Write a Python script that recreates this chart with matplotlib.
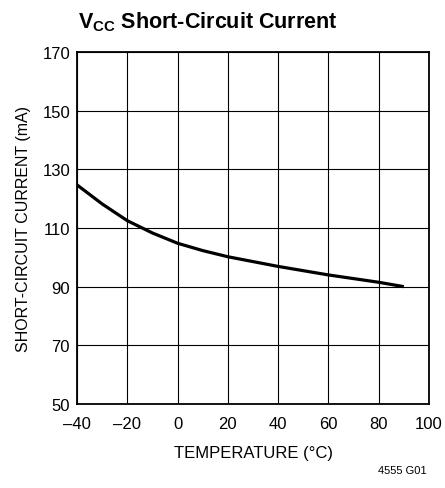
import matplotlib.pyplot as plt
from matplotlib import font_manager

# curve
temp = [-40, -30, -20, -10, 0, 10, 20, 40, 60, 80, 90]
current = [124.7, 118.2, 112.5, 108.3, 104.8, 102.3, 100.2, 96.9, 94.0, 91.5, 90.0]

x_ticks = [-40, -20, 0, 20, 40, 60, 80, 100]
y_ticks = [50, 70, 90, 110, 130, 150, 170]

names = {f.name for f in font_manager.fontManager.ttflist}
fam = 'Liberation Sans Narrow' if 'Liberation Sans Narrow' in names else 'Liberation Sans'
plt.rcParams['font.family'] = [fam, 'DejaVu Sans']
plt.rcParams['mathtext.fontset'] = 'custom'
plt.rcParams['mathtext.rm'] = fam
plt.rcParams['mathtext.bf'] = fam + ':bold'

fig = plt.figure(figsize=(4.45, 4.89), dpi=100)
ax = fig.add_axes([77 / 445, 1 - 405 / 489, 352 / 445, 352 / 489])

ax.plot(temp, current, color='black', lw=2.3, solid_capstyle='butt')

ax.set_xlim(-40, 100)
ax.set_ylim(50, 170)
ax.set_xticks(x_ticks)
ax.set_yticks(y_ticks)
ax.set_xticklabels([str(v).replace('-', '\u2013') for v in x_ticks])
ax.grid(True, color='black', lw=0.8)
ax.tick_params(length=0, labelsize=12, pad=5)
ax.tick_params(axis='x', pad=9)
for s in ax.spines.values():
    s.set_linewidth(1.3)

ax.set_xlabel('TEMPERATURE (\u00b0C)', fontsize=12, labelpad=10)
ax.set_ylabel('SHORT-CIRCUIT CURRENT (mA)', fontsize=11.5, labelpad=8)

fig.text(78 / 445, 1 - 22 / 489, r'$\mathbf{V_{CC}}$ Short-Circuit Current',
         fontsize=15.5, fontweight='bold', va='center', ha='left')
fig.text(427 / 445, 1 - 471 / 489, '4555 G01', fontsize=8, ha='right', va='center')

fig.savefig('out.png', dpi=100)
